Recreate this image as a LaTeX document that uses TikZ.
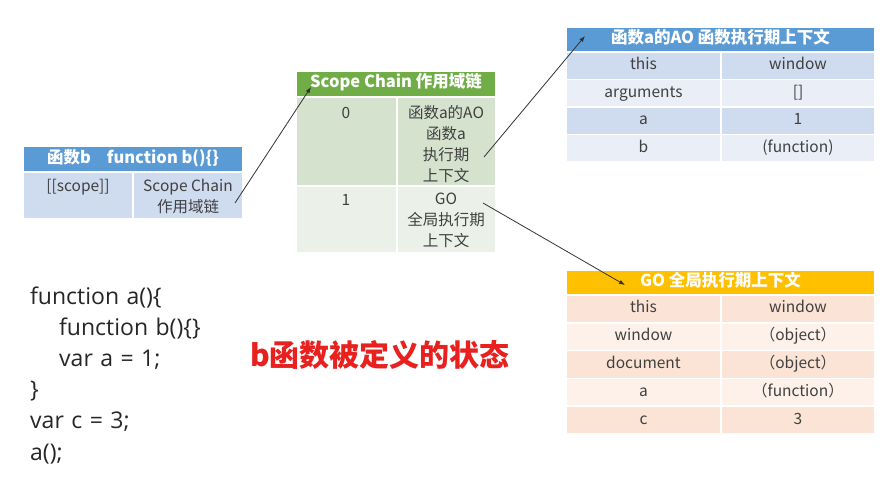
\documentclass[tikz,border=0pt]{standalone}
\usepackage{fontspec}
\setmainfont{Noto Sans CJK SC}
\newfontfamily\codefont[WordSpace=1.25]{Open Sans}
\usetikzlibrary{arrows.meta}
\definecolor{hblue}{HTML}{5B9BD5}
\definecolor{bdark}{HTML}{CFDBEE}
\definecolor{blight}{HTML}{E9EEF7}
\definecolor{hgreen}{HTML}{70AD47}
\definecolor{gdark}{HTML}{D5E3CE}
\definecolor{glight}{HTML}{EBF1E8}
\definecolor{hgold}{HTML}{FFC000}
\definecolor{odark}{HTML}{FBE4D5}
\definecolor{olight}{HTML}{FDF1EA}
\definecolor{txt}{HTML}{404040}
\definecolor{codec}{HTML}{262626}
\definecolor{arr}{HTML}{333333}
\definecolor{redt}{HTML}{E8201E}
\tikzset{
  cellbox/.style={draw=white, line width=1.5pt, inner sep=0pt, outer sep=0pt, anchor=north west,
    text=txt, font=\fontsize{15.5}{21}\selectfont, text height=11pt, text depth=3pt},
  head/.style={cellbox, text=white, font=\fontsize{16.5}{20}\selectfont\bfseries},
  celltext/.style={anchor=base, align=center, inner sep=0pt, text=txt, font=\fontsize{15.5}{21}\selectfont},
  ptr/.style={draw=arr, line width=0.8pt, -{Latex[length=6pt,width=4.5pt]}},
}
\begin{document}
\begin{tikzpicture}[x=1pt,y=-1pt]
\useasboundingbox[fill=white] (0,0) rectangle (886,487);

% table of function b
\node[head, fill=hblue, minimum width=220pt, minimum height=26pt] (bhead) at (23,146) {函数b\hspace{16pt}function b()\{\}};
\node[cellbox, fill=bdark, minimum width=110pt, minimum height=47pt] (bscope) at (23,172) {};
\node[cellbox, fill=bdark, minimum width=110pt, minimum height=47pt] (bchain) at (133,172) {};
\node[celltext] (tbscope) at (78,191) {[[scope]]};
% multi-line texts: the base anchor is the baseline of the last line
\node[celltext] (tbchain) at (188,212) {Scope Chain\\作用域链};

% scope chain table
\node[head, fill=hgreen, minimum width=200pt, minimum height=26pt] (schead) at (296,71) {Scope Chain 作用域链};
\node[cellbox, fill=gdark, minimum width=101pt, minimum height=89pt] (sc0i) at (296,97) {};
\node[cellbox, fill=gdark, minimum width=99pt, minimum height=89pt] (sc0v) at (397,97) {};
\node[cellbox, fill=glight, minimum width=101pt, minimum height=67pt] (sc1i) at (296,186) {};
\node[cellbox, fill=glight, minimum width=99pt, minimum height=67pt] (sc1v) at (397,186) {};
\node[celltext] (t0) at (346,118) {0};
\node[celltext] (t0v) at (446,181) {函数a的AO\\函数a\\执行期\\上下文};
\node[celltext] (t1) at (346,205) {1};
\node[celltext] (t1v) at (446,246) {GO\\全局执行期\\上下文};

% AO table
\node[head, fill=hblue, minimum width=309pt, minimum height=25pt] (aohead) at (566,27) {函数a的AO 函数执行期上下文};
\node[cellbox, fill=bdark, minimum width=155pt, minimum height=27.5pt] (ao1k) at (566,52) {this};
\node[cellbox, fill=bdark, minimum width=154pt, minimum height=27.5pt] (ao1v) at (721,52) {window};
\node[cellbox, fill=blight, minimum width=155pt, minimum height=27.5pt] (ao2k) at (566,79.5) {arguments};
\node[cellbox, fill=blight, minimum width=154pt, minimum height=27.5pt] (ao2v) at (721,79.5) {[]};
\node[cellbox, fill=bdark, minimum width=155pt, minimum height=27.5pt] (ao3k) at (566,107) {a};
\node[cellbox, fill=bdark, minimum width=154pt, minimum height=27.5pt] (ao3v) at (721,107) {1};
\node[cellbox, fill=blight, minimum width=155pt, minimum height=27.5pt] (ao4k) at (566,134.5) {b};
\node[cellbox, fill=blight, minimum width=154pt, minimum height=27.5pt] (ao4v) at (721,134.5) {(function)};

% GO table
\node[head, fill=hgold, minimum width=309pt, minimum height=25pt] (gohead) at (566,270) {GO 全局执行期上下文};
\node[cellbox, fill=odark, minimum width=155pt, minimum height=27.8pt] (go1k) at (566,295) {this};
\node[cellbox, fill=odark, minimum width=154pt, minimum height=27.8pt] (go1v) at (721,295) {window};
\node[cellbox, fill=olight, minimum width=155pt, minimum height=27.8pt] (go2k) at (566,322.8) {window};
\node[cellbox, fill=olight, minimum width=154pt, minimum height=27.8pt] (go2v) at (721,322.8) {（object）};
\node[cellbox, fill=odark, minimum width=155pt, minimum height=27.8pt] (go3k) at (566,350.6) {document};
\node[cellbox, fill=odark, minimum width=154pt, minimum height=27.8pt] (go3v) at (721,350.6) {（object）};
\node[cellbox, fill=olight, minimum width=155pt, minimum height=27.8pt] (go4k) at (566,378.4) {a};
\node[cellbox, fill=olight, minimum width=154pt, minimum height=27.8pt] (go4v) at (721,378.4) {（function）};
\node[cellbox, fill=odark, minimum width=155pt, minimum height=27.8pt] (go5k) at (566,406.2) {c};
\node[cellbox, fill=odark, minimum width=154pt, minimum height=27.8pt] (go5v) at (721,406.2) {3};

% code
\node[anchor=base west, align=left, inner sep=0pt, font=\codefont\fontsize{23}{31.2}\selectfont, text=codec] (code) at (30,460)
  {function a()\{\\\hspace*{29pt}function b()\{\}\\\hspace*{29pt}var a = 1;\\\}\\var c = 3;\\a();};

% title
\node[anchor=west, inner sep=0pt, font=\fontsize{30}{34}\selectfont\bfseries, text=redt] (title) at (250,355) {b函数被定义的状态};

% pointers
\coordinate (p1s) at (235,203);
\coordinate (p2s) at (484,157);
\coordinate (p3s) at (483,203);
\coordinate (p1e) at (311,87);
\coordinate (p2e) at (585,36);
\coordinate (p3e) at (625,285);
\draw[ptr] (p1s) -- (p1e);
\draw[ptr] (p2s) -- (p2e);
\draw[ptr] (p3s) -- (p3e);
\end{tikzpicture}
\end{document}
